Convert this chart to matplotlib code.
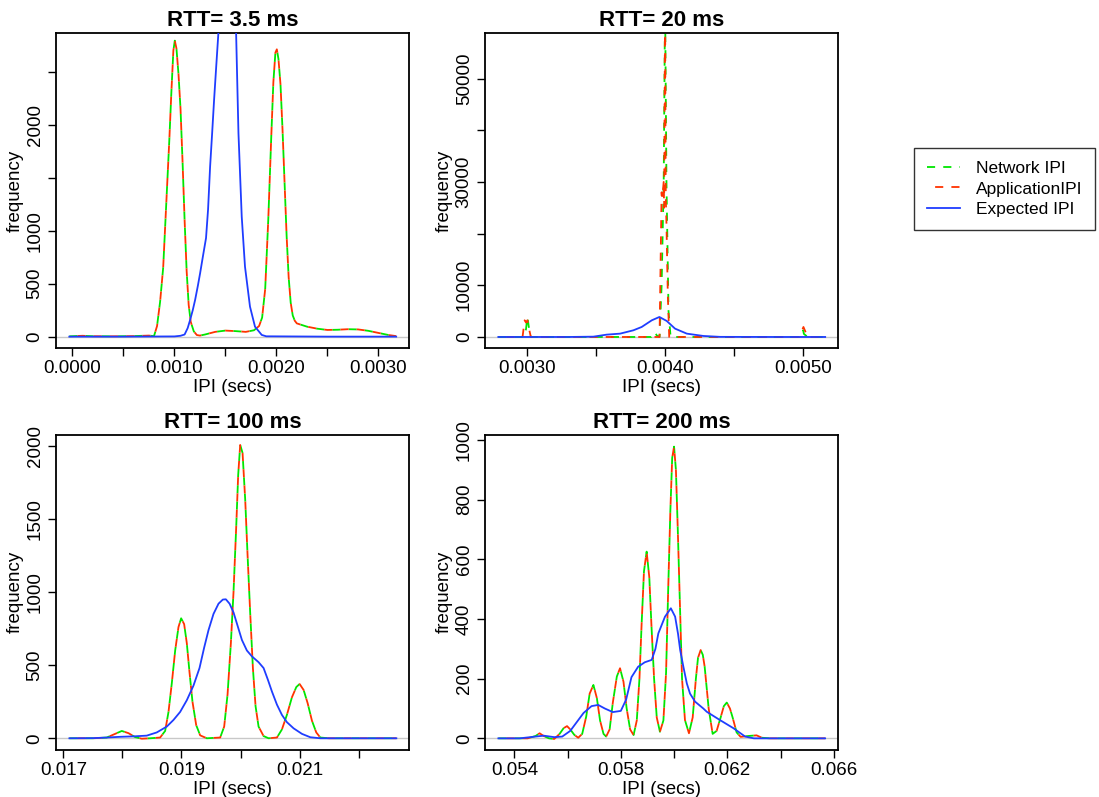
import numpy as np
import matplotlib.pyplot as plt

plt.rcParams['font.family'] = ['Liberation Sans', 'DejaVu Sans']

titles = ['RTT= 3.5 ms', 'RTT= 20 ms', 'RTT= 100 ms', 'RTT= 200 ms']

# panel 1 : RTT 3.5 ms
net1_x = [-0.00003, 0.00010, 0.00020, 0.00040, 0.00060, 0.00075, 0.00080, 0.00083, 0.00086,
          0.00089, 0.00092, 0.00095, 0.00097, 0.00099, 0.001004, 0.00102, 0.00104, 0.00106,
          0.00108, 0.00110, 0.00112, 0.00114, 0.00116, 0.00119, 0.00122, 0.00125, 0.0013,
          0.0014, 0.0015, 0.0016, 0.0017, 0.00178, 0.00183, 0.00186, 0.00189, 0.00192,
          0.00195, 0.00197, 0.00199, 0.002004, 0.00202, 0.00204, 0.00206, 0.00208, 0.0021,
          0.00212, 0.00214, 0.00216, 0.00218, 0.0022, 0.0023, 0.0024, 0.0025, 0.0026, 0.0027,
          0.0028, 0.0029, 0.0030, 0.0031, 0.003174]
net1_y = [3, 8, 4, 3, 5, 10, 5, 100, 330, 650, 1250, 1850, 2300, 2700, 2793, 2720, 2480,
          2150, 1650, 1100, 620, 300, 140, 50, 15, 10, 20, 45, 57, 52, 45, 60, 100, 180, 450,
          1100, 1900, 2400, 2680, 2711, 2620, 2380, 1950, 1450, 950, 560, 320, 200, 150, 125,
          94, 75, 63, 65, 70, 68, 55, 35, 15, 5]
app1_x = net1_x
app1_y = net1_y
exp1_x = [-0.00003, 0.0005, 0.0010, 0.00106, 0.00110, 0.00113, 0.001154, 0.00118, 0.001203,
          0.00123, 0.001252, 0.00128, 0.00131, 0.00133, 0.00135, 0.00137, 0.001389, 0.00141,
          0.001431, 0.00146, 0.0015, 0.00154, 0.00158, 0.001605, 0.001628, 0.00166, 0.001692,
          0.001741, 0.00179, 0.001856, 0.0019, 0.0025, 0.003174]
exp1_y = [0, 0, 2, 8, 20, 80, 157, 250, 346, 480, 598, 760, 930, 1200, 1604, 1920, 2233,
          2550, 2862, 3300, 3700, 3750, 3300, 2862, 1918, 1132, 660, 283, 94, 16, 3, 0, 0]

# panel 2 : RTT 20 ms
net2_x = [0.002795, 0.00298, 0.002995, 0.003005, 0.003015, 0.00303, 0.0035, 0.00390,
          0.003925, 0.00394, 0.00396, 0.003975, 0.00399, 0.004000, 0.00401, 0.004025, 0.00404,
          0.0045, 0.00497, 0.004998, 0.005003, 0.00503, 0.005157]
net2_y = [0, 0, 1500, 3870, 2000, 0, 0, 0, 970, 300, 0, 10000, 30000, 65000, 30000,
          5000, 0, 0, 0, 1290, 600, 0, 0]
app2_x = [0.002795, 0.00297, 0.002985, 0.002995, 0.003005, 0.003015, 0.00303, 0.0035, 0.00394,
          0.00396, 0.003975, 0.00398, 0.00399, 0.003993, 0.004000, 0.004005, 0.00401, 0.00402,
          0.00403, 0.0045, 0.00497, 0.005, 0.00503, 0.005157]
app2_y = [0, 0, 3225, 2800, 3225, 1800, 0, 0, 0, 0, 28000, 27000, 30000, 25000, 65000,
          27000, 22000, 8000, 0, 0, 0, 1935, 0, 0]
exp2_x = [0.002795, 0.0033, 0.003482, 0.003578, 0.003675, 0.003771, 0.003831, 0.003904,
          0.003959, 0.004012, 0.004072, 0.004157, 0.004277, 0.004398, 0.0048, 0.005157]
exp2_y = [0, 0, 60, 450, 645, 1290, 1935, 3225, 3870, 3096, 1612, 645, 194, 20, 0, 0]

# panel 3 : RTT 100 ms
net3_x = [0.017102, 0.0175, 0.017734, 0.017876, 0.017989, 0.018102, 0.018215, 0.018328,
          0.018469, 0.018638, 0.018723, 0.01878, 0.018836, 0.018893, 0.018949, 0.018994,
          0.019045, 0.01909, 0.019136, 0.019186, 0.019249, 0.019316, 0.019429, 0.019655,
          0.019723, 0.01978, 0.019836, 0.019881, 0.019927, 0.01996, 0.019994, 0.020034,
          0.020079, 0.020119, 0.020164, 0.020209, 0.020254, 0.020305, 0.02039, 0.020475,
          0.020616, 0.0207, 0.020785, 0.02087, 0.020944, 0.021, 0.021068, 0.021136, 0.021209,
          0.021282, 0.02135, 0.0215, 0.022638]
net3_y = [0, 0, 5, 30, 50, 35, 8, -3, 0, 5, 50, 180, 376, 600, 760, 820, 780, 650, 450,
          250, 90, 20, 0, 5, 80, 300, 650, 1000, 1450, 1800, 2005, 1950, 1629, 1250, 850, 480,
          220, 80, 15, 0, 5, 60, 160, 280, 350, 371, 330, 240, 120, 40, 5, 0, 0]
app3_x = net3_x
app3_y = net3_y
exp3_x = [0.017102, 0.017508, 0.017734, 0.01796, 0.018186, 0.018412, 0.018582, 0.018751,
          0.018864, 0.018977, 0.01909, 0.019203, 0.019305, 0.019384, 0.019458, 0.019542,
          0.019627, 0.0197, 0.019751, 0.019814, 0.019881, 0.019949, 0.020023, 0.020107,
          0.020192, 0.020305, 0.02039, 0.020463, 0.020531, 0.020616, 0.0207, 0.020785,
          0.020898, 0.02104, 0.021181, 0.02135, 0.022638]
exp3_y = [0, 1, 5, 10, 13, 18, 40, 80, 125, 180, 260, 360, 480, 620, 740, 850, 920, 948,
          950, 920, 860, 770, 672, 600, 560, 520, 480, 400, 320, 230, 160, 110, 68, 30, 7, 0, 0]

# panel 4 : RTT 200 ms
net4_x = [0.0534, 0.0545, 0.0548, 0.05495, 0.0551, 0.0553, 0.0555, 0.0557, 0.05585, 0.05598,
          0.0561, 0.05625, 0.0564, 0.05655, 0.0567, 0.05683, 0.05697, 0.0571, 0.05722,
          0.05735, 0.05745, 0.05758, 0.0577, 0.05785, 0.05797, 0.0581, 0.05822, 0.05835,
          0.05848, 0.0586, 0.0587, 0.05878, 0.05887, 0.05897, 0.05907, 0.05915, 0.05925,
          0.05935, 0.05947, 0.0596, 0.0597, 0.05978, 0.05986, 0.05993, 0.0600, 0.06007,
          0.06014, 0.06022, 0.0603, 0.06041, 0.06056, 0.0607, 0.06082, 0.0609, 0.061, 0.06108,
          0.06115, 0.0613, 0.06145, 0.0616, 0.06175, 0.06187, 0.06198, 0.0621, 0.0622,
          0.06235, 0.0625, 0.0628, 0.0631, 0.0633, 0.0636, 0.065675]
net4_y = [0, 0, 8, 17, 8, 0, -2, 15, 34, 41, 30, 12, 2, 15, 73, 150, 179, 135, 60, 15, 6,
          30, 120, 207, 235, 190, 100, 30, 11, 60, 200, 380, 560, 626, 540, 380, 200, 70, 22,
          60, 220, 500, 760, 940, 978, 900, 700, 450, 200, 61, 17, 70, 200, 270, 296, 280,
          240, 100, 15, 25, 70, 108, 120, 100, 70, 20, 5, 8, 10, 2, 0, 0]
app4_x = net4_x
app4_y = net4_y
exp4_x = [0.0534, 0.0542, 0.0547, 0.0551, 0.0555, 0.0558, 0.0561, 0.05635, 0.0566, 0.0569,
          0.05715, 0.0574, 0.0577, 0.058, 0.0582, 0.0584, 0.05865, 0.0589, 0.05916, 0.0593,
          0.05941, 0.05966, 0.05988, 0.06004, 0.06015, 0.06023, 0.06035, 0.06048, 0.0606,
          0.06079, 0.0611, 0.06123, 0.06173, 0.06223, 0.06267, 0.0630, 0.065675]
exp4_y = [0, 0, 5, 9, 4, 6, 25, 55, 85, 108, 112, 100, 88, 92, 130, 205, 240, 255, 263, 300,
          352, 408, 436, 408, 350, 296, 240, 184, 150, 123, 100, 89, 61, 34, 6, 0, 0]

panels = [
    (net1_x, net1_y, app1_x, app1_y, exp1_x, exp1_y),
    (net2_x, net2_y, app2_x, app2_y, exp2_x, exp2_y),
    (net3_x, net3_y, app3_x, app3_y, exp3_x, exp3_y),
    (net4_x, net4_y, app4_x, app4_y, exp4_x, exp4_y),
]

xlims = [(-0.00016, 0.0033), (0.002701, 0.005248), (0.016876, 0.022853), (0.05291, 0.06615)]
ylims = [(-107, 2865), (-2129, 58824), (-80, 2075), (-39, 1018)]

xticks = [np.arange(0, 0.00301, 0.0005), np.arange(0.003, 0.00501, 0.0005),
          np.arange(0.017, 0.02201, 0.001), np.arange(0.054, 0.06601, 0.002)]
xlabs = [['0.0000', '', '0.0010', '', '0.0020', '', '0.0030'],
         ['0.0030', '', '0.0040', '', '0.0050'],
         ['0.017', '', '0.019', '', '0.021', ''],
         ['0.054', '', '0.058', '', '0.062', '', '0.066']]
yticks = [[0, 500, 1000, 1500, 2000, 2500],
          [0, 10000, 20000, 30000, 40000, 50000],
          [0, 500, 1000, 1500, 2000],
          [0, 200, 400, 600, 800, 1000]]
ylabs = [['0', '500', '1000', '', '2000', ''],
         ['0', '10000', '', '30000', '', '50000'],
         ['0', '500', '1000', '1500', '2000'],
         ['0', '200', '400', '600', '800', '1000']]

positions = [[0.0510, 0.5634, 0.3212, 0.3952],
             [0.4416, 0.5634, 0.3207, 0.3952],
             [0.0510, 0.0590, 0.3212, 0.3956],
             [0.4416, 0.0590, 0.3207, 0.3956]]

green = '#00e600'
red = '#ff3300'
blue = '#1f3dff'
lw = 1.3

fig = plt.figure(figsize=(10.99, 7.97), dpi=100)
for i, (nx, ny, ax_, ay, ex, ey) in enumerate(panels):
    ax = fig.add_axes(positions[i])
    ax.axhline(0, color='#c8c8c8', lw=1.0, zorder=1)
    ax.plot(nx, ny, color=green, lw=lw, ls=(0, (4.5, 4.5)), label='Network IPI', zorder=2)
    ax.plot(ax_, ay, color=red, lw=lw, ls=(4.5, (4.5, 4.5)), label='ApplicationIPI', zorder=3)
    ax.plot(ex, ey, color=blue, lw=lw, label='Expected IPI', zorder=4)
    ax.set_xlim(xlims[i])
    ax.set_ylim(ylims[i])
    ax.set_xticks(xticks[i])
    ax.set_xticklabels(xlabs[i])
    ax.set_yticks(yticks[i])
    ax.set_yticklabels(ylabs[i], rotation=90, va='center')
    ax.tick_params(direction='out', length=6, width=1, labelsize=13.5, pad=3)
    for s in ax.spines.values():
        s.set_linewidth(1.3)
    ax.set_title(titles[i], fontsize=16, fontweight='bold', pad=5)
    ax.set_xlabel('IPI (secs)', fontsize=13.5, labelpad=1)
    ax.set_ylabel('frequency', fontsize=13.5, labelpad=2)
    if i == 0:
        handles, labels = ax.get_legend_handles_labels()

leg = fig.legend(handles, labels, loc='upper left', bbox_to_anchor=(0.8317, 0.8143),
                 fontsize=12.5, frameon=True, fancybox=False, borderaxespad=0,
                 handlelength=1.9, handletextpad=0.9, labelspacing=0.3,
                 borderpad=0.75)
leg.get_frame().set_edgecolor('black')
leg.get_frame().set_linewidth(1.0)

fig.savefig('out.png', dpi=100)
